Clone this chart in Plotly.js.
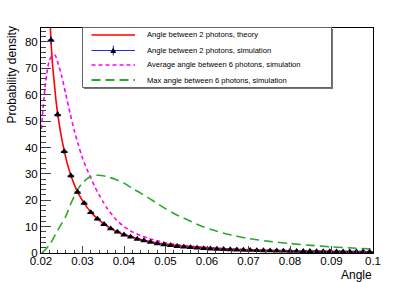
<!DOCTYPE html>
<html>
<head>
<meta charset="utf-8">
<script src="https://cdn.plot.ly/plotly-3.0.1.min.js"></script>
<style>html,body{margin:0;padding:0;background:#fff;}#chart{width:415px;height:282px;}</style>
</head>
<body>
<div id="chart"></div>
<script>
// ---- data ----
var theoryX = [0.0221, 0.0222, 0.0223, 0.0224, 0.0226, 0.0228, 0.0232, 0.0236, 0.0240, 0.0248, 0.0256, 0.0264, 0.0272, 0.0280, 0.0288, 0.0296, 0.0304, 0.0312, 0.0320, 0.0336, 0.0352, 0.0368, 0.0384, 0.0400, 0.0420, 0.0440, 0.0460, 0.0480, 0.0500, 0.0530, 0.0560, 0.0600, 0.0650, 0.0700, 0.0750, 0.0800, 0.0850, 0.0900, 0.0950, 0.1000];
var theoryY = [100, 88, 84, 80.5, 75.5, 71, 64.5, 58, 53, 45, 38.8, 33.5, 29.5, 26, 23.2, 20.9, 18.9, 17.1, 15.5, 13.0, 11.0, 9.35, 8.05, 7.0, 5.95, 5.1, 4.4, 3.8, 3.35, 2.8, 2.35, 1.9, 1.5, 1.2, 0.98, 0.8, 0.67, 0.56, 0.48, 0.41];

var simX = [0.0224, 0.0240, 0.0256, 0.0272, 0.0288, 0.0304, 0.0320, 0.0336, 0.0352, 0.0368, 0.0384, 0.0400, 0.0416, 0.0432, 0.0448, 0.0464, 0.0480, 0.0496, 0.0512, 0.0528, 0.0544, 0.0560, 0.0576, 0.0592, 0.0608, 0.0624, 0.0640, 0.0656, 0.0672, 0.0688, 0.0704, 0.0720, 0.0736, 0.0752, 0.0768, 0.0784, 0.0800, 0.0816, 0.0832, 0.0848, 0.0864, 0.0880, 0.0896, 0.0912, 0.0928, 0.0944, 0.0960, 0.0976, 0.0992];
var simY = [80.7, 52.5, 38.5, 29.3, 23.1, 18.9, 15.4, 12.9, 10.9, 9.2, 8.0, 6.9, 6.1, 5.3, 4.7, 4.1, 3.6, 3.2, 2.85, 2.55, 2.3, 2.1, 1.9, 1.75, 1.6, 1.5, 1.38, 1.28, 1.2, 1.12, 1.05, 0.98, 0.92, 0.86, 0.81, 0.77, 0.72, 0.69, 0.65, 0.62, 0.59, 0.56, 0.54, 0.51, 0.49, 0.47, 0.45, 0.43, 0.41];
var simErrY = [1.2, 0.9, 0.7, 0.6, 0.5, 0.45, 0.4, 0.35, 0.3, 0.3, 0.25, 0.25, 0.2, 0.2, 0.2, 0.18, 0.17, 0.16, 0.15, 0.14, 0.13, 0.13, 0.12, 0.12, 0.11, 0.11, 0.1, 0.1, 0.1, 0.1, 0.09, 0.09, 0.09, 0.09, 0.08, 0.08, 0.08, 0.08, 0.08, 0.07, 0.07, 0.07, 0.07, 0.07, 0.07, 0.06, 0.06, 0.06, 0.06];
var simHalfBin = 0.0008;

var avgX = [0.0201, 0.0205, 0.0210, 0.0215, 0.0220, 0.0228, 0.0234, 0.0240, 0.0250, 0.0260, 0.0270, 0.0280, 0.0290, 0.0300, 0.0310, 0.0320, 0.0330, 0.0340, 0.0350, 0.0360, 0.0380, 0.0400, 0.0420, 0.0440, 0.0460, 0.0480, 0.0500, 0.0530, 0.0560, 0.0600, 0.0650, 0.0700, 0.0800, 0.0900, 0.1000];
var avgY = [47, 55, 63, 69, 73, 75, 75, 72.5, 67, 60, 53, 46.5, 41, 36, 32, 28.5, 25, 22, 19.3, 16.8, 12.8, 10, 8, 6.6, 5.5, 4.6, 3.9, 3.1, 2.6, 2.1, 1.6, 1.3, 0.9, 0.7, 0.55];

var maxX = [0.0202, 0.0206, 0.0220, 0.0240, 0.0260, 0.0270, 0.0280, 0.0290, 0.0300, 0.0310, 0.0320, 0.0330, 0.0340, 0.0350, 0.0360, 0.0380, 0.0400, 0.0420, 0.0440, 0.0460, 0.0480, 0.0500, 0.0520, 0.0550, 0.0580, 0.0610, 0.0650, 0.0700, 0.0750, 0.0800, 0.0850, 0.0900, 0.0950, 0.1000];
var maxY = [0, 0.5, 3, 8.5, 14, 18, 21.5, 24.5, 26.5, 28, 29, 29.4, 29.5, 29.3, 28.9, 27.9, 26.5, 24.5, 22.7, 20.8, 18.8, 16.8, 15, 12.8, 10.6, 8.9, 7.1, 5.5, 4.4, 3.6, 2.9, 2.3, 1.9, 1.5];

var legendLabels = [
  "Angle between 2 photons, theory",
  "Angle between 2 photons, simulation",
  "Average angle between 6 photons, simulation",
  "Max angle between 6 photons, simulation"
];
var xTitle = "Angle";
var yTitle = "Probability density";

// ---- style ----
var RED = "#ff0000", BLUE = "#2a2ae0", MAG = "#ff00ff", GREEN = "#2ca82c";
var FONT = "Liberation Sans, Arial, Helvetica, sans-serif";

var traces = [
  {x: avgX, y: avgY, mode: "lines", line: {color: MAG, width: 1.6, dash: "4px,3px", shape: "spline", smoothing: 0.6}, hoverinfo: "skip", showlegend: false},
  {x: maxX, y: maxY, mode: "lines", line: {color: GREEN, width: 1.6, dash: "9px,5px", shape: "spline", smoothing: 0.6}, hoverinfo: "skip", showlegend: false},
  {x: theoryX, y: theoryY, mode: "lines", line: {color: RED, width: 1.6, shape: "spline", smoothing: 0.5}, hoverinfo: "skip", showlegend: false},
  {x: simX, y: simY, mode: "markers", marker: {symbol: "triangle-up", size: 6.5, color: "#000"},
   error_x: {type: "constant", value: simHalfBin, color: BLUE, thickness: 1, width: 0},
   error_y: {type: "data", array: simErrY, color: BLUE, thickness: 1, width: 1},
   hoverinfo: "skip", showlegend: false}
];

// plot area in pixels: left 41, right 373, top 28, bottom 253
function px(p) { return (p - 41) / 332; }
function py(p) { return (253 - p) / 225; }

var shapes = [];
var annotations = [];
// legend box with ROOT-like shadow
shapes.push({type: "rect", xref: "paper", yref: "paper", x0: px(84), x1: px(333), y0: py(89), y1: py(29), fillcolor: "#777", line: {width: 0}, layer: "above"});
shapes.push({type: "rect", xref: "paper", yref: "paper", x0: px(82.5), x1: px(331.5), y0: py(87.5), y1: py(27.5), fillcolor: "#fff", line: {color: "#666", width: 1}, layer: "above"});
var rowY = [35, 50.5, 65, 80];
var sampleX0 = 91.5, sampleX1 = 135, textX = 145;
var sampleStyles = [
  {color: RED, width: 1.6},
  {color: BLUE, width: 1},
  {color: MAG, width: 1.6, dash: "4px,3px"},
  {color: GREEN, width: 2.2, dash: "9px,5px"}
];
for (var i = 0; i < 4; i++) {
  shapes.push({type: "line", xref: "paper", yref: "paper", x0: px(sampleX0), x1: px(sampleX1), y0: py(rowY[i]), y1: py(rowY[i]), line: sampleStyles[i], layer: "above"});
  annotations.push({xref: "paper", yref: "paper", x: px(textX), y: py(rowY[i]), xanchor: "left", yanchor: "middle", showarrow: false, text: legendLabels[i], font: {family: FONT, size: 7.6, color: "#000"}});
}
var mx = (sampleX0 + sampleX1) / 2;
shapes.push({type: "line", xref: "paper", yref: "paper", x0: px(mx), x1: px(mx), y0: py(rowY[1] - 5), y1: py(rowY[1] + 5), line: {color: BLUE, width: 1}, layer: "above"});
shapes.push({type: "path", xref: "paper", yref: "paper",
  path: "M" + px(mx - 3) + "," + py(rowY[1] + 2.5) + " L" + px(mx + 3) + "," + py(rowY[1] + 2.5) + " L" + px(mx) + "," + py(rowY[1] - 3) + " Z",
  fillcolor: "#000", line: {width: 0}, layer: "above"});

annotations.push({xref: "paper", yref: "paper", x: 1.003, y: py(274.5), xanchor: "right", yanchor: "middle", showarrow: false, text: xTitle, font: {family: FONT, size: 12, color: "#000"}});
annotations.push({xref: "paper", yref: "paper", x: px(11), y: py(75.5), xanchor: "center", yanchor: "middle", textangle: -90, showarrow: false, text: yTitle, font: {family: FONT, size: 12, color: "#000"}});

var layout = {
  width: 415, height: 282,
  margin: {l: 41, r: 42, t: 28, b: 29, pad: 0},
  paper_bgcolor: "#fff", plot_bgcolor: "#fff",
  showlegend: false,
  font: {family: FONT, size: 11, color: "#000"},
  xaxis: {
    range: [0.02, 0.1], tick0: 0.02, dtick: 0.01, ticks: "inside", ticklen: 7, tickwidth: 1, tickcolor: "#444",
    showline: true, linecolor: "#000", linewidth: 1, mirror: true, showgrid: false, zeroline: false,
    ticklabelstandoff: -3,
    tickfont: {family: FONT, size: 11.5, color: "#000"},
    minor: {dtick: 0.002, ticks: "inside", ticklen: 3.5, tickcolor: "#444", showgrid: false}
  },
  yaxis: {
    range: [0, 85.3], tick0: 0, dtick: 10, ticks: "inside", ticklen: 10, tickwidth: 1, tickcolor: "#444",
    showline: true, linecolor: "#000", linewidth: 1, mirror: true, showgrid: false, zeroline: false,
    tickfont: {family: FONT, size: 11.5, color: "#000"},
    minor: {dtick: 2, ticks: "inside", ticklen: 5, tickcolor: "#444", showgrid: false}
  },
  shapes: shapes,
  annotations: annotations
};

Plotly.newPlot("chart", traces, layout, {displayModeBar: false, staticPlot: true});
</script>
</body>
</html>
